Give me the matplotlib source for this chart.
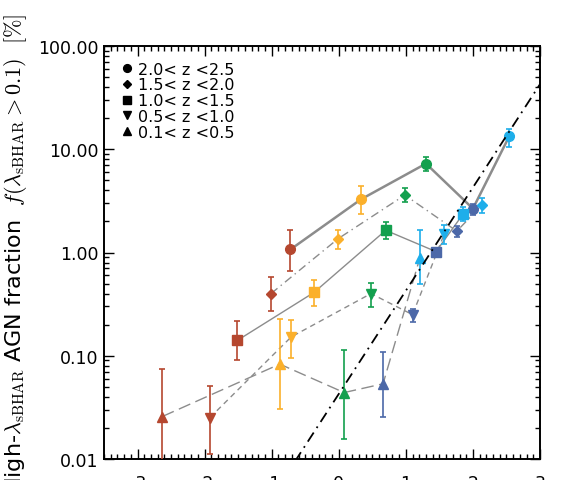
import numpy as np
import matplotlib
matplotlib.use("Agg")
import matplotlib.pyplot as plt
from matplotlib.lines import Line2D
from matplotlib.ticker import FixedLocator, MultipleLocator, LogLocator, NullFormatter, FuncFormatter

plt.rcParams['font.family'] = ['DejaVu Sans']
plt.rcParams['mathtext.fontset'] = 'cm'
plt.rcParams['axes.unicode_minus'] = False

# ---------------- data ----------------
colors = ['#B5472F', '#FBB02B', '#13A04E', '#4C68A8', '#1EAEEA']

labels = ['2.0< z <2.5', '1.5< z <2.0', '1.0< z <1.5', '0.5< z <1.0', '0.1< z <0.5']

# 2.0 < z < 2.5 (circles)
x_z1 = [-0.72, 0.33, 1.30, 2.00, 2.54]
y_z1 = [1.07, 3.27, 7.26, 2.66, 13.3]
lo_z1 = [0.66, 2.37, 6.15, 2.30, 10.6]
hi_z1 = [1.65, 4.40, 8.40, 2.97, 15.6]

# 1.5 < z < 2.0 (diamonds)
x_z2 = [-1.01, -0.01, 0.985, 1.76, 2.13]
y_z2 = [0.40, 1.36, 3.60, 1.61, 2.86]
lo_z2 = [0.27, 1.07, 3.10, 1.42, 2.39]
hi_z2 = [0.575, 1.65, 4.18, 1.80, 3.34]

# 1.0 < z < 1.5 (squares)
x_z3 = [-1.51, -0.37, 0.70, 1.45, 1.85]
y_z3 = [0.141, 0.41, 1.64, 1.02, 2.34]
lo_z3 = [0.090, 0.30, 1.36, 0.95, 2.01]
hi_z3 = [0.215, 0.54, 1.97, 1.10, 2.75]

# 0.5 < z < 1.0 (down triangles)
x_z4 = [-1.92, -0.71, 0.48, 1.10, 1.57]
y_z4 = [0.0252, 0.152, 0.40, 0.25, 1.50]
lo_z4 = [0.0112, 0.096, 0.294, 0.21, 1.20]
hi_z4 = [0.051, 0.224, 0.508, 0.286, 1.83]

# 0.1 < z < 0.5 (up triangles)
x_z5 = [-2.63, -0.88, 0.08, 0.66, 1.21]
y_z5 = [0.0258, 0.083, 0.044, 0.0535, 0.89]
lo_z5 = [0.001, 0.0304, 0.0155, 0.0258, 0.49]
hi_z5 = [0.074, 0.227, 0.113, 0.108, 1.67]

# reference line: log10(f) = slope * x + intercept
ref_slope = 1.0
ref_intercept = -1.37

x_ticks = [-3, -2, -1, 0, 1, 2, 3]
y_ticks = [0.01, 0.1, 1, 10, 100]

series = [
    (x_z1, y_z1, lo_z1, hi_z1, 'o', 7.0, dict(ls='-', lw=1.8)),
    (x_z2, y_z2, lo_z2, hi_z2, 'D', 5.0, dict(ls=(0, (6, 3, 1, 3)), lw=1.0)),
    (x_z3, y_z3, lo_z3, hi_z3, 's', 6.8, dict(ls='-', lw=1.0)),
    (x_z4, y_z4, lo_z4, hi_z4, 'v', 7.5, dict(ls=(0, (4, 3)), lw=1.0)),
    (x_z5, y_z5, lo_z5, hi_z5, '^', 7.5, dict(ls=(0, (9, 4)), lw=1.0)),
]

# ---------------- figure ----------------
fig = plt.figure(figsize=(5.68, 4.81), dpi=100)
ax = fig.add_axes([104 / 568, (481 - 460) / 481, 436 / 568, 413 / 481])

ax.set_xlim(-3.5, 3.0)
ax.set_yscale('log')
ax.set_ylim(0.01, 100)

line_grey = '#8C8C8C'
for xs, ys, lo, hi, mk, ms, lstyle in series:
    ax.plot(xs, ys, color=line_grey, zorder=2, **lstyle)
    for xi, yi, l, h, c in zip(xs, ys, lo, hi, colors):
        ax.errorbar([xi], [yi], yerr=[[yi - l], [h - yi]], fmt=mk, color=c,
                    ms=ms, mec=c, elinewidth=1.2, capsize=2.3, capthick=1.2,
                    zorder=3)

xr = np.array(ax.get_xlim())
ax.plot(xr, 10 ** (ref_slope * xr + ref_intercept), color='black',
        lw=1.3, ls=(0, (6, 3, 1, 3)), zorder=4)

# ticks
ax.xaxis.set_major_locator(FixedLocator(x_ticks))
ax.xaxis.set_minor_locator(MultipleLocator(0.1))
ax.yaxis.set_major_locator(FixedLocator(y_ticks))
ax.yaxis.set_minor_locator(LogLocator(base=10, subs=np.arange(2, 10)))
ax.yaxis.set_minor_formatter(NullFormatter())
ax.yaxis.set_major_formatter(FuncFormatter(lambda v, p: '%.2f' % v))
ax.xaxis.set_major_formatter(FuncFormatter(lambda v, p: '%d' % v))

ax.tick_params(which='both', direction='in', top=True, right=True, width=1.0)
ax.tick_params(which='major', length=7)
ax.tick_params(which='minor', length=3.5)
ax.tick_params(axis='y', which='major', labelsize=12.5, pad=4)
ax.tick_params(axis='x', which='major', labelsize=12.5, pad=11)
for sp in ax.spines.values():
    sp.set_linewidth(1.4)

ax.set_ylabel(r'High-$\lambda_{\rm sBHAR}$ AGN fraction  $f(\lambda_{\rm sBHAR} > 0.1)$  $[\%]$',
              fontsize=16)
ax.yaxis.set_label_coords(-0.172, 0.5)

handles = [Line2D([], [], marker=s[4], color='black', ls='none', ms=s[5] * 0.8)
           for s in series]
ax.legend(handles, labels, loc='upper left', bbox_to_anchor=(0.037, 0.962),
          frameon=False, fontsize=11.5, handlelength=0.8, handletextpad=0.3,
          labelspacing=0.05, borderpad=0, borderaxespad=0)

fig.savefig('out.png', dpi=100)
